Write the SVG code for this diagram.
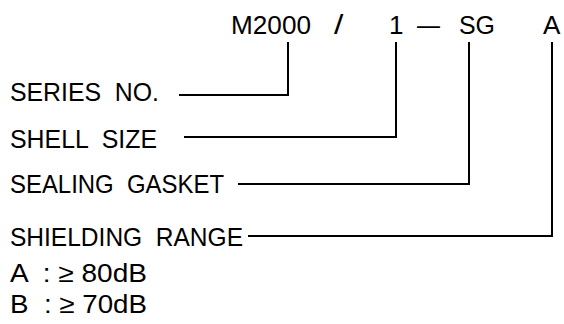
<svg xmlns="http://www.w3.org/2000/svg" width="564" height="324" viewBox="0 0 564 324">
<style>
text{font-family:"Liberation Sans",Arial,sans-serif;font-size:26px;fill:#000;white-space:pre}
.ln{fill:none;stroke:#000;stroke-width:2}
</style>
<rect width="564" height="324" fill="#fff"/>
<g id="code">
<text x="231" y="34" textLength="80" lengthAdjust="spacingAndGlyphs">M2000</text>
<text transform="translate(334,34) scale(1.25,1)" x="0" y="0" style="font-size:27px">/</text>
<text x="389" y="34">1</text>
<text x="417" y="34" textLength="23" lengthAdjust="spacingAndGlyphs">–</text>
<text x="459" y="34" textLength="36" lengthAdjust="spacingAndGlyphs">SG</text>
<text x="543" y="34">A</text>
</g>
<g id="series"><text x="10" y="101" xml:space="preserve" textLength="149" lengthAdjust="spacingAndGlyphs">SERIES  NO.</text></g>
<g id="shell"><text x="10" y="148" xml:space="preserve" textLength="147" lengthAdjust="spacingAndGlyphs">SHELL  SIZE</text></g>
<g id="sealing"><text x="10" y="193" xml:space="preserve" textLength="214" lengthAdjust="spacingAndGlyphs">SEALING  GASKET</text></g>
<g id="shielding"><text x="10" y="246" xml:space="preserve" textLength="233" lengthAdjust="spacingAndGlyphs">SHIELDING  RANGE</text></g>
<g id="rangeA"><text x="10" y="282" xml:space="preserve" textLength="137" lengthAdjust="spacingAndGlyphs">A  : ≥ 80dB</text></g>
<g id="rangeB"><text x="10" y="313" xml:space="preserve" textLength="137" lengthAdjust="spacingAndGlyphs">B  : ≥ 70dB</text></g>
<g id="connectors">
<path class="ln" d="M179,95 H288 V42"/>
<path class="ln" d="M184,137 H396 V42"/>
<path class="ln" d="M238,184 H469 V42"/>
<path class="ln" d="M248,236 H552 V42"/>
</g>
</svg>
